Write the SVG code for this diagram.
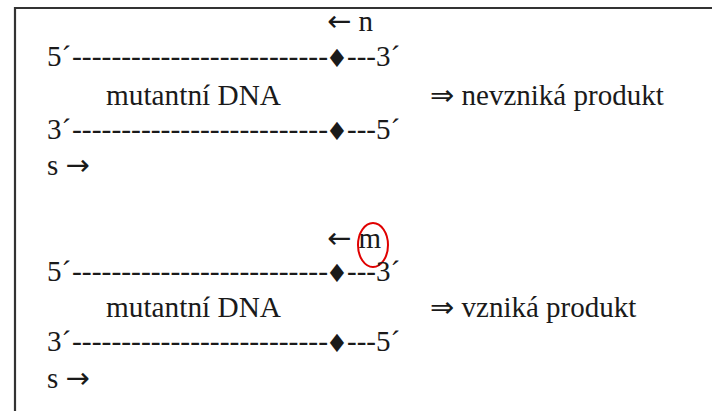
<svg xmlns="http://www.w3.org/2000/svg" width="712" height="411" viewBox="0 0 712 411">
  <style>
    text { font-family: "Liberation Serif", "Tinos", "Times New Roman", "DejaVu Serif", serif; font-size: 29px; fill: #1a1a1a; }
    .arr { font-family: "DejaVu Sans", sans-serif; font-size: 29px; }
    .dia { font-family: "DejaVu Sans", sans-serif; font-size: 25px; text-anchor: middle; }
    .frame { fill: none; stroke: #333; stroke-width: 2.2; }
    .mark { fill: none; stroke: #e00000; stroke-width: 2; }
  </style>
  <rect width="712" height="411" fill="#ffffff"/>
  <path class="frame" d="M15,412 V8 H712"/>

  <!-- upper panel: primer n -->
  <g id="panel-n">
    <text x="327" y="31"><tspan class="arr">←</tspan> n</text>
    <text x="47" y="66">5´</text>
    <text x="72" y="66" textLength="256" lengthAdjust="spacingAndGlyphs">--------------------------</text>
    <text class="dia" x="337" y="67">♦</text>
    <text x="347" y="66">---3´</text>
    <text x="106" y="105" textLength="175" lengthAdjust="spacingAndGlyphs">mutantní DNA</text>
    <text x="430" y="105"><tspan class="arr">⇒</tspan> nevzniká produkt</text>
    <text x="47" y="139">3´</text>
    <text x="72" y="139" textLength="256" lengthAdjust="spacingAndGlyphs">--------------------------</text>
    <text class="dia" x="337" y="140">♦</text>
    <text x="347" y="139">---5´</text>
    <text x="47" y="175">s <tspan class="arr">→</tspan></text>
  </g>

  <!-- lower panel: primer m -->
  <g id="panel-m">
    <text x="327" y="248"><tspan class="arr">←</tspan> m</text>
    <ellipse class="mark" cx="373" cy="245" rx="15" ry="22"/>
    <text x="47" y="281">5´</text>
    <text x="72" y="281" textLength="256" lengthAdjust="spacingAndGlyphs">--------------------------</text>
    <text class="dia" x="337" y="282">♦</text>
    <text x="347" y="281">---3´</text>
    <text x="106" y="317" textLength="175" lengthAdjust="spacingAndGlyphs">mutantní DNA</text>
    <text x="430" y="317"><tspan class="arr">⇒</tspan> vzniká produkt</text>
    <text x="47" y="351">3´</text>
    <text x="72" y="351" textLength="256" lengthAdjust="spacingAndGlyphs">--------------------------</text>
    <text class="dia" x="337" y="352">♦</text>
    <text x="347" y="351">---5´</text>
    <text x="47" y="388">s <tspan class="arr">→</tspan></text>
  </g>
</svg>
